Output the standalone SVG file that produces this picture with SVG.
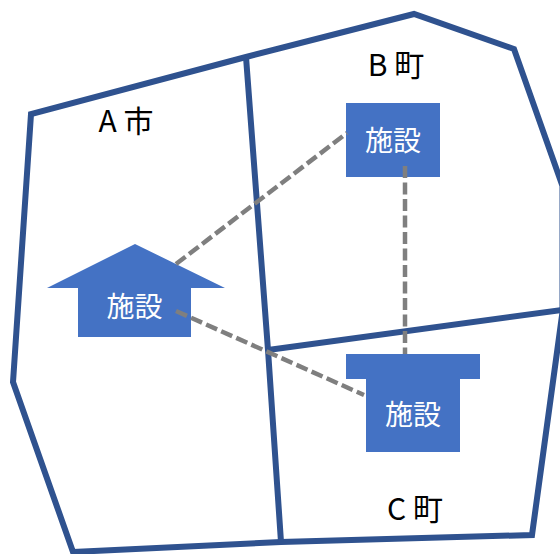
<svg xmlns="http://www.w3.org/2000/svg" width="560" height="554" viewBox="0 0 560 554">
<style>
.b{fill:none;stroke:#2f528f;stroke-width:6;stroke-linejoin:miter}
.c{fill:none;stroke:#7f7f7f;stroke-width:4.500;stroke-dasharray:12 4.500}
.s{fill:#4472c4}
text{font-family:"Noto Sans CJK JP","Liberation Sans",sans-serif;font-size:28px;text-anchor:middle}
.w{fill:#fff}
.l{font-size:30px;fill:#000}
</style>
<rect width="560" height="554" fill="#fff"/>
<g id="areas">
<path class="b" d="M562.500 186L514 49L414 14L246 57L31 114L13 382L73 552L281 542L532 535L562.500 312Z"/>
<path class="b" d="M246 57L268 350L281 542"/>
<path class="b" d="M268 350L562 310"/>
</g>
<g id="node-a"><path class="s" d="M135 244L225 288H191V337H78V288H47Z"/><text class="w" x="134.500" y="317">施設</text></g>
<g id="node-b"><rect class="s" x="346" y="103" width="94" height="74"/><text class="w" x="393" y="151">施設</text></g>
<g id="node-c"><path class="s" d="M346 354H480V379H460V452H366V379H346Z"/><text class="w" x="413" y="425">施設</text></g>
<g id="connectors">
<path class="c" d="M176 264L347 133"/>
<path class="c" d="M405 166V354"/>
<path class="c" d="M176 311L364 395"/>
</g>
<text id="label-a" class="l" x="126" y="132">A 市</text>
<text id="label-b" class="l" x="396" y="76">B 町</text>
<text id="label-c" class="l" x="415" y="520">C 町</text>
</svg>
